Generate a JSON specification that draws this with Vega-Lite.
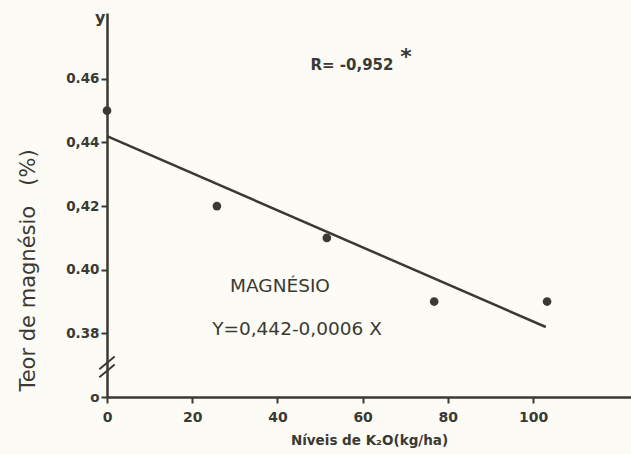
{
  "$schema": "https://vega.github.io/schema/vega-lite/v6.json",
  "width": 524,
  "height": 384,
  "autosize": "none",
  "padding": {"left": 107, "top": 13, "right": 0, "bottom": 57},
  "background": "#fcfbf6",
  "config": {
    "view": {"stroke": null},
    "font": "DejaVu Sans",
    "axis": {"domainColor": "#3a3a32", "domainWidth": 2.5, "tickColor": "#3a3a32", "tickWidth": 2, "labelColor": "#3a3a32", "titleColor": "#3a3a32", "grid": false}
  },
  "datasets": {
    "pts": [
      {"x": 0, "y": 0.45},
      {"x": 25.8, "y": 0.42},
      {"x": 51.6, "y": 0.41},
      {"x": 76.8, "y": 0.39},
      {"x": 103.3, "y": 0.39}
    ],
    "fit": [
      {"x": 0, "y": 0.442},
      {"x": 103, "y": 0.382}
    ],
    "brk": [
      {"x": -1.8, "y": 0.3662, "xe": 1.8, "ye": 0.3702},
      {"x": -1.8, "y": 0.3687, "xe": 1.8, "ye": 0.3727}
    ],
    "eq": [
      {"x": 40.6, "y": 0.395, "text": "MAGNÉSIO"},
      {"x": 44.6, "y": 0.3813, "text": "Y=0,442-0,0006 X"}
    ],
    "r": [
      {"x": 57.5, "y": 0.4644, "text": "R= -0,952"}
    ],
    "star": [
      {"x": 70.2, "y": 0.4668, "text": "*"}
    ],
    "ylab": [
      {"x": -1.6, "y": 0.4791, "text": "y"}
    ]
  },
  "layer": [
    {
      "data": {"name": "pts"},
      "mark": {"type": "circle", "size": 75, "opacity": 1, "color": "#3a3a32"},
      "encoding": {
        "x": {
          "field": "x", "type": "quantitative",
          "scale": {"domain": [0, 123], "nice": false, "zero": false},
          "axis": {
            "title": "Níveis de K₂O(kg/ha)",
            "titleFontSize": 13.5, "titleFontWeight": "bold", "titlePadding": 9,
            "values": [0, 20, 40, 60, 80, 100],
            "labelFontSize": 14, "labelFontWeight": "bold", "labelPadding": 7,
            "tickSize": 6, "labelFlush": false
          }
        },
        "y": {
          "field": "y", "type": "quantitative",
          "scale": {"domain": [0.36, 0.4807], "nice": false, "zero": false},
          "axis": {
            "title": "Teor de magnésio\u00a0\u00a0\u00a0(%)",
            "titleFontSize": 21, "titleFontWeight": "normal",
            "titleAngle": 270, "titleAlign": "center", "titleBaseline": "middle",
            "titleX": -79, "titleY": 257,
            "values": [0.36, 0.38, 0.40, 0.42, 0.44, 0.46],
            "labelExpr": "datum.value < 0.37 ? 'o' : ((abs(datum.value - 0.44) < 0.001 || abs(datum.value - 0.42) < 0.001) ? replace(format(datum.value, '.2f'), '.', ',') : format(datum.value, '.2f'))",
            "labelFontSize": 13.5, "labelFontWeight": "bold", "labelPadding": 2,
            "tickSize": 6, "labelFlush": false
          }
        }
      }
    },
    {
      "data": {"name": "fit"},
      "mark": {"type": "line", "color": "#3a3a32", "strokeWidth": 2.5},
      "encoding": {
        "x": {"field": "x", "type": "quantitative"},
        "y": {"field": "y", "type": "quantitative"}
      }
    },
    {
      "data": {"name": "brk"},
      "mark": {"type": "rule", "color": "#3a3a32", "strokeWidth": 2},
      "encoding": {
        "x": {"field": "x", "type": "quantitative"},
        "y": {"field": "y", "type": "quantitative"},
        "x2": {"field": "xe"},
        "y2": {"field": "ye"}
      }
    },
    {
      "data": {"name": "eq"},
      "mark": {"type": "text", "fontSize": 18.5, "color": "#3a3a32", "align": "center", "baseline": "middle"},
      "encoding": {
        "x": {"field": "x", "type": "quantitative"},
        "y": {"field": "y", "type": "quantitative"},
        "text": {"field": "text"}
      }
    },
    {
      "data": {"name": "r"},
      "mark": {"type": "text", "fontSize": 15, "fontWeight": "bold", "color": "#3a3a32", "align": "center", "baseline": "middle"},
      "encoding": {
        "x": {"field": "x", "type": "quantitative"},
        "y": {"field": "y", "type": "quantitative"},
        "text": {"field": "text"}
      }
    },
    {
      "data": {"name": "star"},
      "mark": {"type": "text", "fontSize": 22, "fontWeight": "bold", "color": "#3a3a32", "align": "center", "baseline": "middle"},
      "encoding": {
        "x": {"field": "x", "type": "quantitative"},
        "y": {"field": "y", "type": "quantitative"},
        "text": {"field": "text"}
      }
    },
    {
      "data": {"name": "ylab"},
      "mark": {"type": "text", "fontSize": 16, "fontWeight": "bold", "color": "#3a3a32", "align": "center", "baseline": "middle"},
      "encoding": {
        "x": {"field": "x", "type": "quantitative"},
        "y": {"field": "y", "type": "quantitative"},
        "text": {"field": "text"}
      }
    }
  ]
}
